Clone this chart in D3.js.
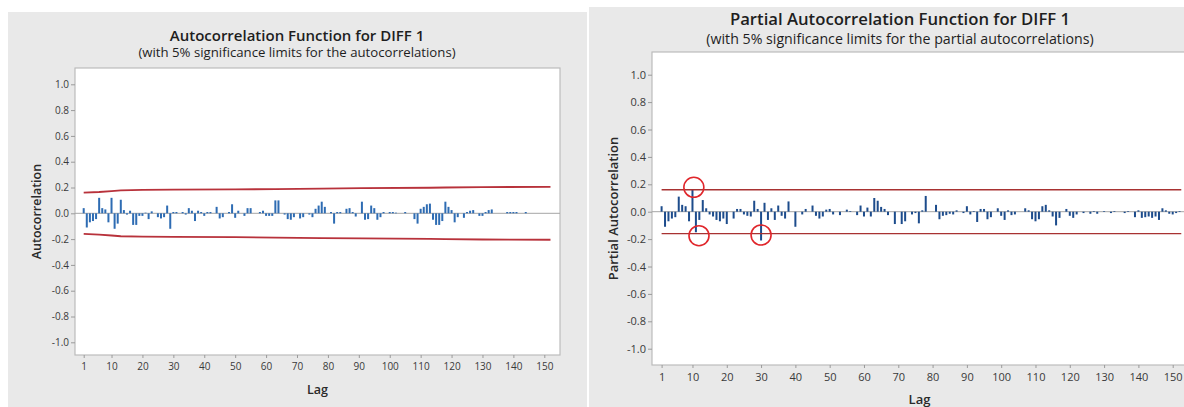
<!DOCTYPE html>
<html>
<head>
<meta charset="utf-8">
<script src="https://cdn.jsdelivr.net/npm/d3@7/dist/d3.min.js"></script>
<style>
    body { margin: 0; background: #ffffff; }
    svg { display: block; font-family: "Open Sans", "Noto Sans", sans-serif; }
    .tick text { fill: #3a3a3a; }
</style>
</head>
<body>
<script>
//wrap everything in a self-executing anonymous function
(function () {

    //lags 1..152 shared by both panels
    var lags = d3.range(1, 153);

    //autocorrelation values
    var acfValues = [
        0.04, -0.11, -0.07, -0.06, -0.045, 0.12, 0.04, 0.03, -0.07, 0.12,
        -0.12, -0.08, 0.105, 0.025, -0.01, 0.02, -0.09, -0.09, -0.02, -0.02,
        0.005, -0.045, 0.015, 0.0, -0.03, -0.04, -0.03, 0.06, -0.12, 0.01,
        0.01, 0.0, 0.01, -0.01, 0.04, 0.02, -0.06, 0.02, 0.01, -0.02,
        0.01, 0.01, 0.0, 0.05, -0.04, -0.03, 0.0, 0.01, 0.07, -0.035,
        0.02, 0.0, -0.02, 0.04, 0.04, 0.0, 0.0, 0.01, 0.02, -0.02,
        -0.02, -0.02, 0.1, 0.1, 0.0, -0.01, -0.045, -0.05, -0.03, 0.0,
        -0.04, -0.03, 0.0, -0.01, -0.03, 0.035, 0.06, 0.09, 0.05, 0.0,
        0.01, -0.08, 0.01, 0.01, 0.0, 0.035, 0.04, 0.01, -0.025, 0.0,
        0.09, -0.05, -0.045, 0.06, 0.04, -0.05, -0.03, 0.01, 0.0, 0.01,
        0.01, 0.005, 0.0, 0.0, 0.01, 0.0, 0.0, -0.045, -0.08, 0.035,
        0.05, 0.07, 0.075, -0.05, -0.09, -0.09, -0.06, 0.09, 0.05, 0.025,
        -0.07, -0.03, 0.0, -0.035, 0.01, 0.02, 0.025, 0.0, -0.02, -0.02,
        0.01, 0.025, 0.03, 0.0, 0.0, 0.0, 0.0, 0.01, 0.01, 0.01,
        0.01, 0.0, 0.0, 0.01, 0.0, 0.0, 0.0, 0.0, 0.0, 0.0,
        0.0, 0.0
    ];

    //partial autocorrelation values
    var pacfValues = [
        0.04, -0.11, -0.07, -0.05, -0.04, 0.11, 0.05, 0.04, -0.07, 0.16,
        -0.15, -0.06, 0.085, 0.025, -0.02, -0.035, -0.06, -0.07, -0.05, -0.09,
        0.0, -0.05, 0.02, 0.02, -0.02, -0.03, -0.035, 0.08, 0.02, -0.21,
        0.065, -0.06, 0.025, -0.06, 0.045, -0.03, -0.05, 0.075, 0.0, -0.11,
        0.0, -0.02, 0.02, 0.0, 0.045, -0.03, -0.05, -0.035, 0.015, 0.02,
        -0.02, 0.0, -0.025, 0.0, 0.015, 0.005, 0.0, -0.025, 0.045, -0.035,
        0.03, -0.035, 0.1, 0.08, 0.035, 0.02, -0.025, 0.0, -0.09, 0.0,
        -0.09, -0.07, 0.0, -0.02, -0.01, -0.085, 0.01, 0.115, 0.0, 0.0,
        0.05, -0.055, -0.03, -0.025, -0.015, -0.02, 0.01, 0.0, -0.01, 0.04,
        -0.02, 0.005, -0.075, 0.02, 0.02, -0.055, -0.04, 0.0, 0.025, -0.03,
        -0.06, 0.01, -0.025, -0.02, 0.0, 0.0, 0.025, 0.01, -0.055, -0.07,
        -0.055, 0.04, 0.05, 0.01, -0.035, -0.1, -0.045, 0.0, 0.02, -0.03,
        -0.045, -0.02, 0.0, -0.01, 0.0, -0.015, 0.005, -0.015, 0.0, 0.005,
        0.0, -0.01, 0.005, 0.0, 0.0, -0.01, 0.005, 0.0, -0.04, 0.01,
        -0.045, -0.04, -0.035, -0.045, -0.035, -0.06, 0.025, 0.01, -0.015, -0.02,
        -0.01, 0.005
    ];

    //5% significance limits (left chart widens with lag, right chart is flat)
    var acfLimitLags = [1, 6, 10, 13, 20, 30, 50, 63, 78, 91, 113, 118, 130, 152];
    var acfLimitValues = [0.160, 0.165, 0.172, 0.178, 0.181, 0.183, 0.185, 0.188, 0.192, 0.195, 0.198, 0.200, 0.203, 0.205];
    var pacfLimitLags = [1, 152.5];
    var pacfLimitValues = [0.16, 0.16];

    //red circles drawn on the right chart
    var circleLags = [10.4, 11.9, 30];
    var circleValues = [0.178, -0.175, -0.17];

    //tick labels
    var xTickValues = [1, 10, 20, 30, 40, 50, 60, 70, 80, 90, 100, 110, 120, 130, 140, 150];
    var yTickValues = [-1.0, -0.8, -0.6, -0.4, -0.2, 0.0, 0.2, 0.4, 0.6, 0.8, 1.0];

    var svg = d3.select("body")
        .append("svg")
        .attr("width", 1184)
        .attr("height", 407);

    //left panel
    drawPanel({
        bg: [8, 12, 579, 395],
        plot: [75, 68, 560, 355],
        xRange: [83.7, 544.3],
        yRange: [342.3, 84.3],
        title: "Autocorrelation Function for DIFF 1",
        subtitle: "(with 5% significance limits for the autocorrelations)",
        titleY: 41, subY: 57, titleX: 297,
        titleSize: 15, subSize: 13.2,
        yLabel: "Autocorrelation", yLabelX: 37,
        lagY: 394, labelSize: 12.5, tickSize: 10,
        values: acfValues,
        limitLags: acfLimitLags, limitValues: acfLimitValues,
        barColor: "#2e6cb3", limitColor: "#b8323b", limitWidth: 1.8
    });

    //right panel
    drawPanel({
        bg: [589, 7, 600, 400],
        plot: [652, 52, 1187, 365],
        xRange: [661.6, 1172.7],
        yRange: [348.7, 74.7],
        title: "Partial Autocorrelation Function for DIFF 1",
        subtitle: "(with 5% significance limits for the partial autocorrelations)",
        titleY: 25, subY: 44, titleX: 900,
        titleSize: 16.7, subSize: 14.2,
        yLabel: "Partial Autocorrelation", yLabelX: 613,
        lagY: 404, labelSize: 13, tickSize: 11,
        values: pacfValues,
        limitLags: pacfLimitLags, limitValues: pacfLimitValues,
        barColor: "#1d4c8c", limitColor: "#a83232", limitWidth: 1.4
    });

    //circles around the lags that cross the limits
    var xR = d3.scaleLinear().domain([1, 150]).range([661.6, 1172.7]);
    var yR = d3.scaleLinear().domain([-1, 1]).range([348.7, 74.7]);
    svg.selectAll(".mark")
        .data(circleLags)
        .enter()
        .append("circle")
        .attr("class", "mark")
        .attr("cx", function (d) { return xR(d); })
        .attr("cy", function (d, i) { return yR(circleValues[i]); })
        .attr("r", 10)
        .style("fill", "none")
        .style("stroke", "#e0262b")
        .style("stroke-width", 1.6);

    function drawPanel(c) {
        var g = svg.append("g");

        //grey panel background
        g.append("rect")
            .attr("x", c.bg[0]).attr("y", c.bg[1])
            .attr("width", c.bg[2]).attr("height", c.bg[3])
            .style("fill", "#e9e9e9");

        //white plot area
        g.append("rect")
            .attr("x", c.plot[0]).attr("y", c.plot[1])
            .attr("width", c.plot[2] - c.plot[0]).attr("height", c.plot[3] - c.plot[1])
            .style("fill", "#ffffff")
            .style("stroke", "#bcbcbc")
            .style("stroke-width", 1.2);

        var x = d3.scaleLinear().domain([1, 150]).range(c.xRange);
        var y = d3.scaleLinear().domain([-1, 1]).range(c.yRange);

        //tick format with a plain hyphen for negatives
        var fmt = function (d) { return d3.format(".1f")(d).replace("\u2212", "-"); };

        //y axis
        var yAxis = g.append("g")
            .attr("transform", "translate(" + c.plot[0] + ",0)")
            .call(d3.axisLeft(y).tickValues(yTickValues).tickFormat(fmt).tickSize(4).tickPadding(2));
        //x axis
        var xAxis = g.append("g")
            .attr("transform", "translate(0," + c.plot[3] + ")")
            .call(d3.axisBottom(x).tickValues(xTickValues).tickFormat(d3.format("d")).tickSize(3).tickPadding(5));

        [yAxis, xAxis].forEach(function (a) {
            a.select(".domain").remove();
            a.selectAll(".tick line").style("stroke", "#9a9a9a");
            a.selectAll(".tick text")
                .style("font-family", "\"Open Sans\", sans-serif")
                .style("font-size", c.tickSize + "px");
        });

        //zero line
        g.append("line")
            .attr("x1", c.plot[0]).attr("x2", c.plot[2])
            .attr("y1", y(0)).attr("y2", y(0))
            .style("stroke", "#a6a6a6")
            .style("stroke-width", 1);

        //bars
        g.selectAll(".bars")
            .data(lags)
            .enter()
            .append("rect")
            .attr("class", "bars")
            .attr("x", function (d) { return x(d) - 1; })
            .attr("width", 2)
            .attr("y", function (d, i) { return Math.min(y(c.values[i]), y(0)); })
            .attr("height", function (d, i) { return Math.abs(y(c.values[i]) - y(0)); })
            .style("fill", c.barColor);

        //significance limits
        var line = d3.line()
            .x(function (d) { return x(d); });
        g.append("path")
            .attr("d", line.y(function (d, i) { return y(c.limitValues[i]); })(c.limitLags))
            .style("fill", "none").style("stroke", c.limitColor).style("stroke-width", c.limitWidth);
        g.append("path")
            .attr("d", line.y(function (d, i) { return y(-c.limitValues[i]); })(c.limitLags))
            .style("fill", "none").style("stroke", c.limitColor).style("stroke-width", c.limitWidth);

        //titles
        g.append("text")
            .attr("x", c.titleX).attr("y", c.titleY)
            .attr("text-anchor", "middle")
            .style("font-size", c.titleSize + "px")
            .style("font-weight", 600)
            .style("fill", "#1e1e1e")
            .text(c.title);
        g.append("text")
            .attr("x", c.titleX).attr("y", c.subY)
            .attr("text-anchor", "middle")
            .style("font-size", c.subSize + "px")
            .style("fill", "#1e1e1e")
            .text(c.subtitle);

        //axis titles
        g.append("text")
            .attr("transform", "translate(" + c.yLabelX + "," + ((c.plot[1] + c.plot[3]) / 2) + ") rotate(-90)")
            .attr("text-anchor", "middle")
            .attr("dy", "0.35em")
            .style("font-size", c.labelSize + "px")
            .style("font-weight", 600)
            .style("fill", "#2a2a2a")
            .text(c.yLabel);
        g.append("text")
            .attr("x", (c.plot[0] + c.plot[2]) / 2).attr("y", c.lagY)
            .attr("text-anchor", "middle")
            .style("font-size", c.labelSize + "px")
            .style("font-weight", 600)
            .style("fill", "#2a2a2a")
            .text("Lag");
    };

})();
</script>
</body>
</html>
